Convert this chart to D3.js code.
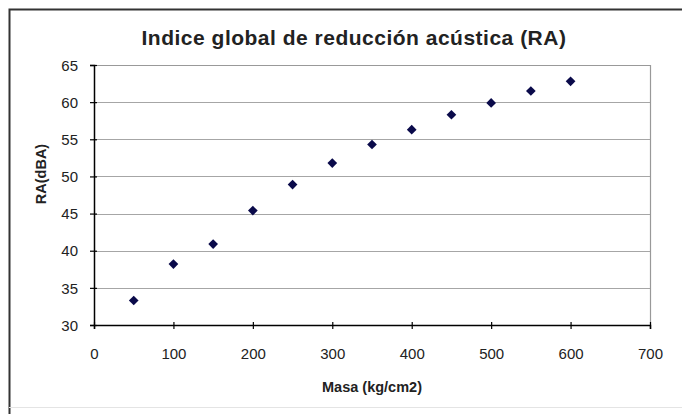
<!DOCTYPE html>
<html>
<head>
<meta charset="utf-8">
<script src="https://cdn.jsdelivr.net/npm/d3@7"></script>
<style>
  body { margin: 0; background: #fff; }
  text { font-family: "Liberation Sans", Arial, sans-serif; }
</style>
</head>
<body>
<script>
// Indice global de reducción acústica

var masa = [50, 100, 150, 200, 250, 300, 350, 400, 450, 500, 550, 600];
var ra = [33.3, 38.2, 40.9, 45.4, 48.9, 51.8, 54.3, 56.3, 58.3, 59.9, 61.5, 62.8];
var xTicks = [0, 100, 200, 300, 400, 500, 600, 700];
var yTicks = [30, 35, 40, 45, 50, 55, 60, 65];

var width = 682, height = 414;
var plot = { left: 94, top: 65, right: 650, bottom: 325 };

var svg = d3.select("body").append("svg")
    .attr("width", width)
    .attr("height", height);

// outer frame
svg.append("rect")
    .attr("x", 0).attr("y", 0).attr("width", width).attr("height", height)
    .style("fill", "#fff");
svg.append("path")
    .attr("d", "M9.5,414 V9.5 H682")
    .style("fill", "none").style("stroke", "#333").style("stroke-width", 2);
svg.append("line")
    .attr("x1", 9).attr("x2", 682).attr("y1", 407.5).attr("y2", 407.5)
    .style("stroke", "#e4e4e4");

var x = d3.scaleLinear().domain([0, 700]).range([plot.left, plot.right]);
var y = d3.scaleLinear().domain([30, 65]).range([plot.bottom, plot.top]);

// gridlines
svg.append("g").selectAll("line")
    .data(yTicks.slice(1, -1))
    .enter().append("line")
    .attr("x1", plot.left).attr("x2", plot.right)
    .attr("y1", function(d) { return Math.round(y(d)) + 0.5; })
    .attr("y2", function(d) { return Math.round(y(d)) + 0.5; })
    .style("stroke", "#a6a6a6").style("stroke-width", 1.2);

// plot area border (top/right)
svg.append("path")
    .attr("d", "M" + plot.left + "," + (plot.top + 0.5) + " H" + (plot.right + 0.5) + " V" + plot.bottom)
    .style("fill", "none").style("stroke", "#999").style("stroke-width", 1.2);

// axes
var xAxis = svg.append("g")
    .attr("transform", "translate(0," + plot.bottom + ")")
    .call(d3.axisBottom(x).tickValues(xTicks).tickSize(4).tickPadding(19));
var yAxis = svg.append("g")
    .attr("transform", "translate(" + plot.left + ",0)")
    .call(d3.axisLeft(y).tickValues(yTicks).tickSize(4).tickPadding(12));

[xAxis, yAxis].forEach(function(a) {
    a.select(".domain").style("stroke", "#000").style("stroke-width", 1.5);
    a.selectAll(".tick line").style("stroke", "#000").style("stroke-width", 1.2);
    a.selectAll(".tick text")
        .style("font-size", "15px").style("fill", "#222")
        .style("font-family", "'Liberation Sans', Arial, sans-serif");
});
// Excel-style: ticks cross the axis
xAxis.selectAll(".tick line").attr("y1", -3).attr("y2", 4);
yAxis.selectAll(".tick line").attr("x1", -4).attr("x2", 3);
yAxis.selectAll(".tick text").attr("dy", "0.35em");

// points
var diamond = d3.symbol().type(d3.symbolDiamond2).size(60);
svg.append("g").selectAll("path")
    .data(masa)
    .enter().append("path")
    .attr("d", diamond)
    .attr("transform", function(d, i) { return "translate(" + x(d) + "," + y(ra[i]) + ")"; })
    .style("fill", "#0a0a4a");

// titles
svg.append("text")
    .attr("x", 354).attr("y", 45)
    .attr("text-anchor", "middle")
    .style("font-size", "21px").style("font-weight", "bold").style("fill", "#222")
    .style("letter-spacing", "0.5px")
    .text("Indice global de reducción acústica (RA)");

svg.append("text")
    .attr("x", 372).attr("y", 392)
    .attr("text-anchor", "middle")
    .style("font-size", "14.5px").style("font-weight", "bold").style("fill", "#222")
    .text("Masa (kg/cm2)");

svg.append("text")
    .attr("transform", "translate(46,174) rotate(-90)")
    .attr("text-anchor", "middle")
    .style("font-size", "14.5px").style("font-weight", "bold").style("fill", "#222")
    .text("RA(dBA)");
</script>
</body>
</html>
